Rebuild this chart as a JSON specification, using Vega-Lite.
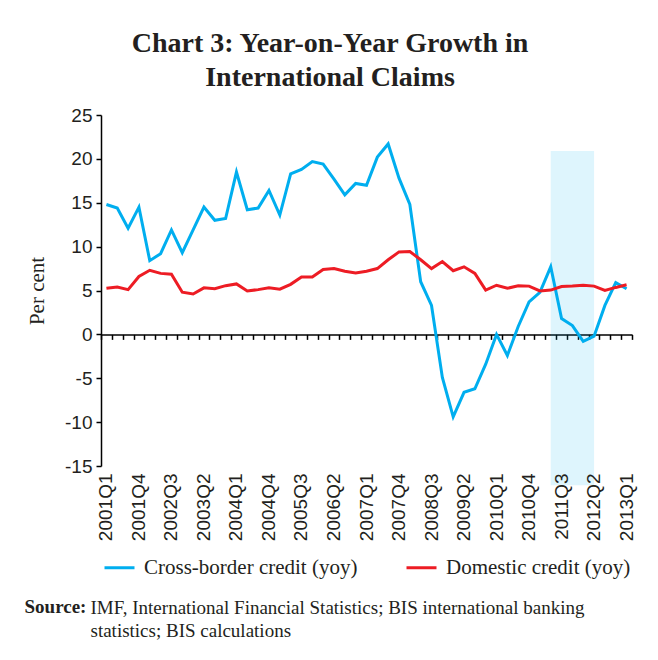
{
  "$schema": "https://vega.github.io/schema/vega-lite/v6.json",
  "width": 531,
  "height": 351,
  "autosize": {"type": "none"},
  "padding": {"left": 101, "top": 115, "right": 26, "bottom": 194},
  "background": "white",
  "config": {"view": {"stroke": null}},
  "title": {
    "text": ["Chart 3: Year-on-Year Growth in", "International Claims"],
    "font": "Liberation Serif",
    "fontSize": 28,
    "fontWeight": "bold",
    "color": "#231F20",
    "anchor": "middle",
    "frame": "bounds",
    "offset": 14,
    "lineHeight": 34
  },
  "datasets": {
    "shade": [{"q": "2011Q2", "q2": "2012Q2", "v": -17.2, "v2": 20.9}],
    "claims": [
      {"q": "2001Q1", "s": "Cross-border credit (yoy)", "v": 14.8},
      {"q": "2001Q2", "s": "Cross-border credit (yoy)", "v": 14.4},
      {"q": "2001Q3", "s": "Cross-border credit (yoy)", "v": 12.1},
      {"q": "2001Q4", "s": "Cross-border credit (yoy)", "v": 14.5},
      {"q": "2002Q1", "s": "Cross-border credit (yoy)", "v": 8.4},
      {"q": "2002Q2", "s": "Cross-border credit (yoy)", "v": 9.2},
      {"q": "2002Q3", "s": "Cross-border credit (yoy)", "v": 11.9},
      {"q": "2002Q4", "s": "Cross-border credit (yoy)", "v": 9.3},
      {"q": "2003Q1", "s": "Cross-border credit (yoy)", "v": 11.9},
      {"q": "2003Q2", "s": "Cross-border credit (yoy)", "v": 14.5},
      {"q": "2003Q3", "s": "Cross-border credit (yoy)", "v": 13.0},
      {"q": "2003Q4", "s": "Cross-border credit (yoy)", "v": 13.2},
      {"q": "2004Q1", "s": "Cross-border credit (yoy)", "v": 18.5},
      {"q": "2004Q2", "s": "Cross-border credit (yoy)", "v": 14.2},
      {"q": "2004Q3", "s": "Cross-border credit (yoy)", "v": 14.4},
      {"q": "2004Q4", "s": "Cross-border credit (yoy)", "v": 16.4},
      {"q": "2005Q1", "s": "Cross-border credit (yoy)", "v": 13.6},
      {"q": "2005Q2", "s": "Cross-border credit (yoy)", "v": 18.3},
      {"q": "2005Q3", "s": "Cross-border credit (yoy)", "v": 18.8},
      {"q": "2005Q4", "s": "Cross-border credit (yoy)", "v": 19.7},
      {"q": "2006Q1", "s": "Cross-border credit (yoy)", "v": 19.4},
      {"q": "2006Q2", "s": "Cross-border credit (yoy)", "v": 17.7},
      {"q": "2006Q3", "s": "Cross-border credit (yoy)", "v": 15.9},
      {"q": "2006Q4", "s": "Cross-border credit (yoy)", "v": 17.2},
      {"q": "2007Q1", "s": "Cross-border credit (yoy)", "v": 17.0},
      {"q": "2007Q2", "s": "Cross-border credit (yoy)", "v": 20.2},
      {"q": "2007Q3", "s": "Cross-border credit (yoy)", "v": 21.7},
      {"q": "2007Q4", "s": "Cross-border credit (yoy)", "v": 17.8},
      {"q": "2008Q1", "s": "Cross-border credit (yoy)", "v": 14.8},
      {"q": "2008Q2", "s": "Cross-border credit (yoy)", "v": 6.0},
      {"q": "2008Q3", "s": "Cross-border credit (yoy)", "v": 3.3},
      {"q": "2008Q4", "s": "Cross-border credit (yoy)", "v": -4.9},
      {"q": "2009Q1", "s": "Cross-border credit (yoy)", "v": -9.4},
      {"q": "2009Q2", "s": "Cross-border credit (yoy)", "v": -6.6},
      {"q": "2009Q3", "s": "Cross-border credit (yoy)", "v": -6.2},
      {"q": "2009Q4", "s": "Cross-border credit (yoy)", "v": -3.4},
      {"q": "2010Q1", "s": "Cross-border credit (yoy)", "v": 0.0},
      {"q": "2010Q2", "s": "Cross-border credit (yoy)", "v": -2.4},
      {"q": "2010Q3", "s": "Cross-border credit (yoy)", "v": 0.9},
      {"q": "2010Q4", "s": "Cross-border credit (yoy)", "v": 3.7},
      {"q": "2011Q1", "s": "Cross-border credit (yoy)", "v": 4.8},
      {"q": "2011Q2", "s": "Cross-border credit (yoy)", "v": 7.7},
      {"q": "2011Q3", "s": "Cross-border credit (yoy)", "v": 1.8},
      {"q": "2011Q4", "s": "Cross-border credit (yoy)", "v": 1.0},
      {"q": "2012Q1", "s": "Cross-border credit (yoy)", "v": -0.8},
      {"q": "2012Q2", "s": "Cross-border credit (yoy)", "v": -0.2},
      {"q": "2012Q3", "s": "Cross-border credit (yoy)", "v": 3.3},
      {"q": "2012Q4", "s": "Cross-border credit (yoy)", "v": 5.9},
      {"q": "2013Q1", "s": "Cross-border credit (yoy)", "v": 5.2},
      {"q": "2001Q1", "s": "Domestic credit (yoy)", "v": 5.25},
      {"q": "2001Q2", "s": "Domestic credit (yoy)", "v": 5.4},
      {"q": "2001Q3", "s": "Domestic credit (yoy)", "v": 5.1},
      {"q": "2001Q4", "s": "Domestic credit (yoy)", "v": 6.6},
      {"q": "2002Q1", "s": "Domestic credit (yoy)", "v": 7.3},
      {"q": "2002Q2", "s": "Domestic credit (yoy)", "v": 6.95},
      {"q": "2002Q3", "s": "Domestic credit (yoy)", "v": 6.85},
      {"q": "2002Q4", "s": "Domestic credit (yoy)", "v": 4.8},
      {"q": "2003Q1", "s": "Domestic credit (yoy)", "v": 4.6},
      {"q": "2003Q2", "s": "Domestic credit (yoy)", "v": 5.3},
      {"q": "2003Q3", "s": "Domestic credit (yoy)", "v": 5.2},
      {"q": "2003Q4", "s": "Domestic credit (yoy)", "v": 5.55},
      {"q": "2004Q1", "s": "Domestic credit (yoy)", "v": 5.75},
      {"q": "2004Q2", "s": "Domestic credit (yoy)", "v": 4.95},
      {"q": "2004Q3", "s": "Domestic credit (yoy)", "v": 5.1},
      {"q": "2004Q4", "s": "Domestic credit (yoy)", "v": 5.3},
      {"q": "2005Q1", "s": "Domestic credit (yoy)", "v": 5.15},
      {"q": "2005Q2", "s": "Domestic credit (yoy)", "v": 5.7},
      {"q": "2005Q3", "s": "Domestic credit (yoy)", "v": 6.55},
      {"q": "2005Q4", "s": "Domestic credit (yoy)", "v": 6.55},
      {"q": "2006Q1", "s": "Domestic credit (yoy)", "v": 7.4},
      {"q": "2006Q2", "s": "Domestic credit (yoy)", "v": 7.5},
      {"q": "2006Q3", "s": "Domestic credit (yoy)", "v": 7.2},
      {"q": "2006Q4", "s": "Domestic credit (yoy)", "v": 7.0},
      {"q": "2007Q1", "s": "Domestic credit (yoy)", "v": 7.2},
      {"q": "2007Q2", "s": "Domestic credit (yoy)", "v": 7.5},
      {"q": "2007Q3", "s": "Domestic credit (yoy)", "v": 8.5},
      {"q": "2007Q4", "s": "Domestic credit (yoy)", "v": 9.4},
      {"q": "2008Q1", "s": "Domestic credit (yoy)", "v": 9.45},
      {"q": "2008Q2", "s": "Domestic credit (yoy)", "v": 8.5},
      {"q": "2008Q3", "s": "Domestic credit (yoy)", "v": 7.5},
      {"q": "2008Q4", "s": "Domestic credit (yoy)", "v": 8.3},
      {"q": "2009Q1", "s": "Domestic credit (yoy)", "v": 7.25},
      {"q": "2009Q2", "s": "Domestic credit (yoy)", "v": 7.7},
      {"q": "2009Q3", "s": "Domestic credit (yoy)", "v": 6.95},
      {"q": "2009Q4", "s": "Domestic credit (yoy)", "v": 5.05},
      {"q": "2010Q1", "s": "Domestic credit (yoy)", "v": 5.6},
      {"q": "2010Q2", "s": "Domestic credit (yoy)", "v": 5.25},
      {"q": "2010Q3", "s": "Domestic credit (yoy)", "v": 5.55},
      {"q": "2010Q4", "s": "Domestic credit (yoy)", "v": 5.5},
      {"q": "2011Q1", "s": "Domestic credit (yoy)", "v": 4.95},
      {"q": "2011Q2", "s": "Domestic credit (yoy)", "v": 5.05},
      {"q": "2011Q3", "s": "Domestic credit (yoy)", "v": 5.45},
      {"q": "2011Q4", "s": "Domestic credit (yoy)", "v": 5.5},
      {"q": "2012Q1", "s": "Domestic credit (yoy)", "v": 5.6},
      {"q": "2012Q2", "s": "Domestic credit (yoy)", "v": 5.5},
      {"q": "2012Q3", "s": "Domestic credit (yoy)", "v": 5.0},
      {"q": "2012Q4", "s": "Domestic credit (yoy)", "v": 5.35},
      {"q": "2013Q1", "s": "Domestic credit (yoy)", "v": 5.65}
    ]
  },
  "encoding": {
    "y": {
      "field": "v",
      "type": "quantitative",
      "scale": {"domain": [-15, 25], "nice": false, "zero": false},
      "axis": {
        "orient": "left",
        "values": [-15, -10, -5, 0, 5, 10, 15, 20, 25],
        "labelExpr": "toString(datum.value)",
        "grid": false,
        "tickSize": 5,
        "tickWidth": 1.5,
        "tickColor": "#000000",
        "domainColor": "#000000",
        "domainWidth": 1.5,
        "labelFont": "Liberation Sans",
        "labelFontSize": 19,
        "labelColor": "#231F20",
        "labelPadding": 4,
        "title": "Per cent",
        "titleFont": "Liberation Serif",
        "titleFontSize": 21,
        "titleFontWeight": "normal",
        "titleColor": "#231F20",
        "titlePadding": 17
      }
    }
  },
  "layer": [
    {
      "data": {"name": "shade"},
      "mark": {"type": "rect", "color": "#00AEEF", "opacity": 0.13},
      "encoding": {
        "x": {
          "field": "q",
          "type": "ordinal",
          "bandPosition": 0.5,
          "scale": {"type": "band", "paddingInner": 0, "paddingOuter": 0},
          "axis": {
            "orient": "bottom",
            "grid": false,
            "domain": false,
            "ticks": false,
            "tickSize": 0,
            "labelAngle": 270,
            "labelPadding": 7,
            "labelFont": "Liberation Sans",
            "labelFontSize": 19,
            "labelColor": "#231F20",
            "labelOverlap": false,
            "labelBound": false,
            "labelExpr": "(toNumber(slice(datum.value,0,4))*4 + toNumber(slice(datum.value,5,6)) - 8005) % 3 === 0 ? datum.value : ''",
            "title": ["IMF, International Financial Statistics; BIS international banking", "statistics; BIS calculations"],
            "titleFont": "Liberation Serif",
            "titleFontSize": 19,
            "titleFontWeight": "normal",
            "titleColor": "#231F20",
            "titleAngle": 0,
            "titleAlign": "left",
            "titleBaseline": "alphabetic",
            "titleX": -11,
            "titleY": 147,
            "titleLineHeight": 23
          }
        },
        "x2": {"field": "q2", "bandPosition": 0.5},
        "y2": {"field": "v2"}
      }
    },
    {
      "data": {"name": "claims"},
      "mark": {"type": "line", "strokeWidth": 3},
      "encoding": {
        "x": {
          "field": "q",
          "type": "ordinal",
          "bandPosition": 0.5,
          "scale": {"type": "band", "paddingInner": 0, "paddingOuter": 0},
          "axis": {
            "orient": "bottom",
            "offset": -131.625,
            "grid": false,
            "labels": false,
            "ticks": true,
            "tickBand": "extent",
            "tickSize": 5,
            "tickWidth": 1.5,
            "tickColor": "#000000",
            "domainColor": "#000000",
            "domainWidth": 1.5,
            "title": "Source:",
            "titleFont": "Liberation Serif",
            "titleFontSize": 19,
            "titleFontWeight": "bold",
            "titleColor": "#231F20",
            "titleAngle": 0,
            "titleAlign": "left",
            "titleBaseline": "alphabetic",
            "titleX": -77,
            "titleY": 278.6
          }
        },
        "color": {
          "field": "s",
          "type": "nominal",
          "scale": {"domain": ["Cross-border credit (yoy)", "Domestic credit (yoy)"], "range": ["#00AEEF", "#ED1C24"]},
          "legend": {
            "orient": "none",
            "legendX": 2,
            "legendY": 436,
            "direction": "horizontal",
            "title": null,
            "padding": 0,
            "symbolType": "stroke",
            "symbolSize": 900,
            "symbolStrokeWidth": 3,
            "labelFont": "Liberation Serif",
            "labelFontSize": 21,
            "labelColor": "#231F20",
            "labelOffset": 8,
            "labelLimit": 400,
            "columnPadding": 42
          }
        }
      }
    }
  ],
  "resolve": {"axis": {"x": "independent"}}
}
